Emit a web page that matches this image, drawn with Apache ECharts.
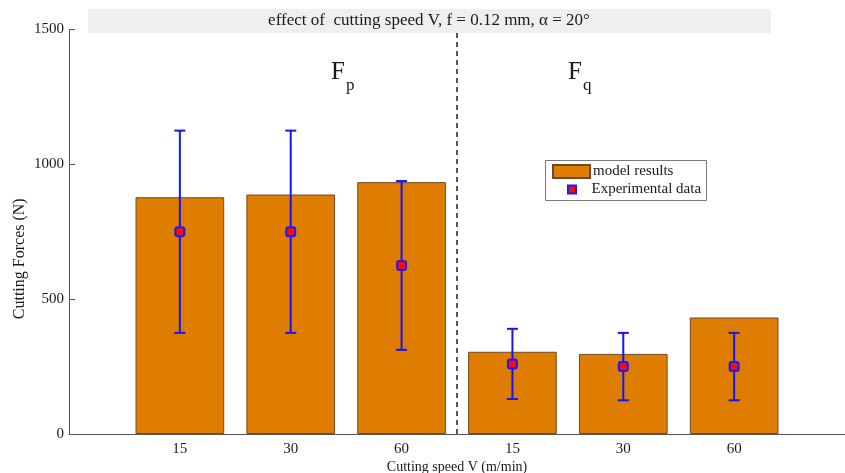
<!DOCTYPE html>
<html>
<head>
<meta charset="utf-8">
<script src="https://cdn.jsdelivr.net/npm/echarts@6/dist/echarts.min.js"></script>
<style>
  html, body { margin: 0; padding: 0; background: #fff; }
  #chart { width: 845px; height: 473px; }
</style>
</head>
<body>
<div id="chart"></div>
<script>
// Cutting speeds for the two force components (Fp group, then Fq group)
const speedLabels = ['15', '30', '60', '15', '30', '60'];
// Model predictions (N)
const modelResults = [878, 888, 934, 305, 297, 432];
// Experimental means and their ranges (N)
const expData = [750, 750, 625, 260, 250, 250];
const expLow  = [375, 375, 312, 130, 125, 125];
const expHigh = [1125, 1125, 938, 390, 375, 375];
// Y axis range
const yMin = 0, yMax = 1500, yStep = 500;
// Position separating the Fp and Fq groups
const groupDivider = 3.5;

const FONT = 'Liberation Serif';
const TXT = '#1a1a1a';

// Bars sit at x = 1..n on a value axis spanning 0..n+1
const xPos = speedLabels.map((_, i) => i + 1);
const barData = modelResults.map((v, i) => [xPos[i], v]);
const expPoints = expData.map((v, i) => [xPos[i], v]);
const errData = expLow.map((lo, i) => [xPos[i], lo, expHigh[i]]);

const gridLeft = 69, gridRight = 0;
const chartW = 845;
const unitPx = (chartW - gridLeft - gridRight) / (speedLabels.length + 1);

const chart = echarts.init(document.getElementById('chart'), null, { renderer: 'canvas' });

chart.setOption({
  backgroundColor: '#ffffff',
  animation: false,
  textStyle: { fontFamily: FONT },
  grid: {
    left: gridLeft, right: gridRight, top: 29.5, bottom: 39,
    containLabel: false, outerBoundsMode: 'none'
  },
  legend: [
    {
      data: [{ name: 'model results', icon: 'rect' }],
      left: 552, top: 164, padding: 0,
      itemWidth: 37, itemHeight: 13, itemGap: 0,
      textStyle: { fontFamily: FONT, fontSize: 15, color: TXT, padding: [0, 0, 0, -2] },
      selectedMode: false
    },
    {
      data: [{ name: 'Experimental data', icon: 'path://M0,0h10v10h-10z' }],
      left: 567, top: 182, padding: 0,
      itemWidth: 29, itemHeight: 8, itemGap: 0,
      textStyle: { fontFamily: FONT, fontSize: 15, color: TXT, padding: [0, 0, 0, 0] },
      selectedMode: false
    }
  ],
  xAxis: {
    type: 'value',
    min: 0,
    max: speedLabels.length + 1,
    interval: 1,
    name: 'Cutting speed V (m/min)',
    nameLocation: 'middle',
    nameGap: 26,
    nameMoveOverlap: false,
    nameTextStyle: { fontFamily: FONT, fontSize: 14, color: TXT },
    axisLine: { show: true, lineStyle: { color: '#555', width: 1 } },
    axisTick: { show: false },
    splitLine: { show: false },
    axisLabel: {
      fontFamily: FONT, fontSize: 15, color: TXT, margin: 8,
      formatter: v => (v >= 1 && v <= speedLabels.length) ? speedLabels[v - 1] : ''
    }
  },
  yAxis: {
    type: 'value',
    min: yMin, max: yMax, interval: yStep,
    name: 'Cutting Forces (N)',
    nameLocation: 'middle',
    nameRotate: 90,
    nameGap: 41,
    nameMoveOverlap: false,
    nameTextStyle: { fontFamily: FONT, fontSize: 16, color: TXT, padding: [0, 54, 0, 0] },
    axisLine: { show: true, lineStyle: { color: '#555', width: 1 } },
    axisTick: { show: true, inside: true, length: 6, lineStyle: { color: '#555' } },
    splitLine: { show: false },
    axisLabel: { fontFamily: FONT, fontSize: 15, color: TXT, margin: 5, formatter: v => String(v) }
  },
  series: [
    {
      name: 'model results',
      type: 'bar',
      data: barData,
      barWidth: unitPx * 0.8,
      itemStyle: { color: '#DF7D00', borderColor: '#6e4a2a', borderWidth: 1 },
      z: 2,
      markLine: {
        silent: true,
        symbol: ['none', 'none'],
        label: { show: false },
        lineStyle: { color: '#222', type: [5, 4], width: 1.5 },
        data: [{ xAxis: groupDivider }]
      }
    },
    {
      name: 'error',
      type: 'custom',
      data: errData,
      z: 3,
      renderItem: (params, api) => {
        const x = api.value(0);
        const lo = api.coord([x, api.value(1)]);
        const hi = api.coord([x, api.value(2)]);
        const cap = 5.5;
        const style = { stroke: '#1414ff', lineWidth: 2 };
        return {
          type: 'group',
          children: [
            { type: 'line', shape: { x1: lo[0], y1: lo[1], x2: hi[0], y2: hi[1] }, style },
            { type: 'line', shape: { x1: lo[0] - cap, y1: lo[1], x2: lo[0] + cap, y2: lo[1] }, style },
            { type: 'line', shape: { x1: hi[0] - cap, y1: hi[1], x2: hi[0] + cap, y2: hi[1] }, style }
          ]
        };
      }
    },
    {
      name: 'Experimental data',
      type: 'scatter',
      data: expPoints,
      symbol: 'roundRect',
      symbolSize: 9,
      z: 4,
      itemStyle: { color: '#ff0a0a', borderColor: '#1a1aff', borderWidth: 2, opacity: 1 }
    }
  ],
  graphic: [
    // legend frame
    {
      type: 'rect', left: 545, top: 160, z: 1,
      shape: { width: 161, height: 40 },
      style: { fill: '#fff', stroke: '#7a7a7a', lineWidth: 1 }
    },
    // title band
    {
      type: 'rect', left: 88, top: 9, z: 50,
      shape: { width: 683, height: 24 },
      style: { fill: '#efefef' }
    },
    {
      type: 'text', x: 429, y: 21, z: 51,
      style: {
        text: 'effect of  cutting speed V, f = 0.12 mm, \u03b1 = 20\u00b0',
        fontFamily: FONT, fontSize: 17, fill: TXT,
        align: 'center', verticalAlign: 'middle'
      }
    },
    // group labels F_p and F_q
    { type: 'text', x: 331, y: 72, z: 51,
      style: { text: 'F', fontFamily: FONT, fontSize: 25, fill: TXT, verticalAlign: 'middle' } },
    { type: 'text', x: 346, y: 86, z: 51,
      style: { text: 'p', fontFamily: FONT, fontSize: 17, fill: TXT, verticalAlign: 'middle' } },
    { type: 'text', x: 568, y: 72, z: 51,
      style: { text: 'F', fontFamily: FONT, fontSize: 25, fill: TXT, verticalAlign: 'middle' } },
    { type: 'text', x: 583, y: 86, z: 51,
      style: { text: 'q', fontFamily: FONT, fontSize: 17, fill: TXT, verticalAlign: 'middle' } }
  ]
});
</script>
</body>
</html>
